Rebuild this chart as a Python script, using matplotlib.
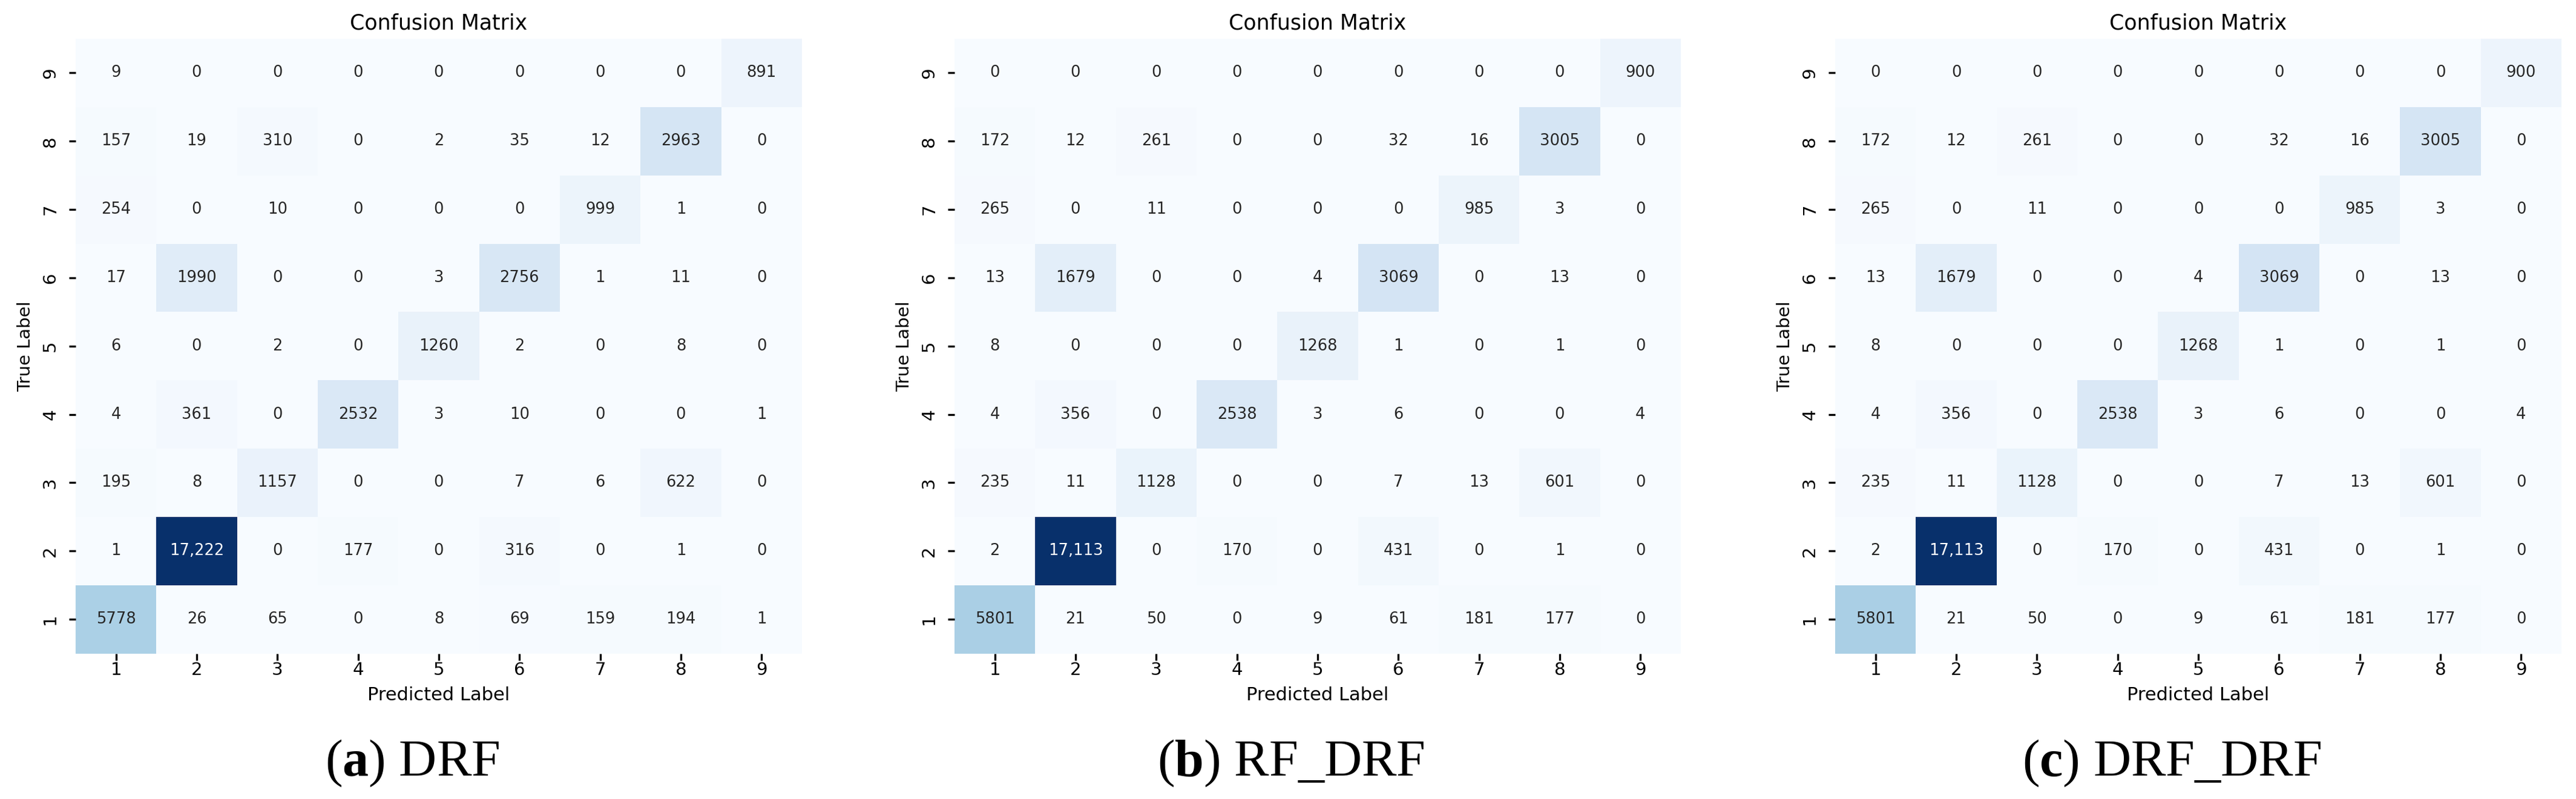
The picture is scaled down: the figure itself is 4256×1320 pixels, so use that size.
import numpy as np
import matplotlib
matplotlib.use("Agg")
import matplotlib.pyplot as plt
import seaborn as sns

# Confusion matrices: rows = true label 1..9, columns = predicted label 1..9
class_labels = [1, 2, 3, 4, 5, 6, 7, 8, 9]

cm_drf = [
    [5778, 26, 65, 0, 8, 69, 159, 194, 1],
    [1, 17222, 0, 177, 0, 316, 0, 1, 0],
    [195, 8, 1157, 0, 0, 7, 6, 622, 0],
    [4, 361, 0, 2532, 3, 10, 0, 0, 1],
    [6, 0, 2, 0, 1260, 2, 0, 8, 0],
    [17, 1990, 0, 0, 3, 2756, 1, 11, 0],
    [254, 0, 10, 0, 0, 0, 999, 1, 0],
    [157, 19, 310, 0, 2, 35, 12, 2963, 0],
    [9, 0, 0, 0, 0, 0, 0, 0, 891],
]

cm_rf_drf = [
    [5801, 21, 50, 0, 9, 61, 181, 177, 0],
    [2, 17113, 0, 170, 0, 431, 0, 1, 0],
    [235, 11, 1128, 0, 0, 7, 13, 601, 0],
    [4, 356, 0, 2538, 3, 6, 0, 0, 4],
    [8, 0, 0, 0, 1268, 1, 0, 1, 0],
    [13, 1679, 0, 0, 4, 3069, 0, 13, 0],
    [265, 0, 11, 0, 0, 0, 985, 3, 0],
    [172, 12, 261, 0, 0, 32, 16, 3005, 0],
    [0, 0, 0, 0, 0, 0, 0, 0, 900],
]

cm_drf_drf = [
    [5801, 21, 50, 0, 9, 61, 181, 177, 0],
    [2, 17113, 0, 170, 0, 431, 0, 1, 0],
    [235, 11, 1128, 0, 0, 7, 13, 601, 0],
    [4, 356, 0, 2538, 3, 6, 0, 0, 4],
    [8, 0, 0, 0, 1268, 1, 0, 1, 0],
    [13, 1679, 0, 0, 4, 3069, 0, 13, 0],
    [265, 0, 11, 0, 0, 0, 985, 3, 0],
    [172, 12, 261, 0, 0, 32, 16, 3005, 0],
    [0, 0, 0, 0, 0, 0, 0, 0, 900],
]

captions = [r"($\mathbf{a}$) DRF", r"($\mathbf{b}$) RF_DRF", r"($\mathbf{c}$) DRF_DRF"]
matrices = [cm_drf, cm_rf_drf, cm_drf_drf]

plt.rcParams['mathtext.fontset'] = 'custom'
plt.rcParams['mathtext.rm'] = 'Liberation Serif'
plt.rcParams['mathtext.bf'] = 'Liberation Serif:bold'

W, H = 4256, 1320
fig = plt.figure(figsize=(W / 100, H / 100), dpi=100)

# heatmap boxes in pixels (left, right), common top/bottom
boxes = [(125, 1325), (1577, 2777), (3032, 4232)]
top, bottom = 64, 1079.5
caption_x = [681, 2133, 3588]


def fmt_cell(v):
    # big numbers use a thousands separator
    return f"{v:,}" if v >= 10000 else str(v)


for i, (cm, (l, r)) in enumerate(zip(matrices, boxes)):
    ax = fig.add_axes([l / W, 1 - bottom / H, (r - l) / W, (bottom - top) / H])
    data = np.array(cm)
    labels = np.vectorize(fmt_cell)(data)
    sns.heatmap(data, annot=labels, fmt="", cmap="Blues", cbar=False,
                xticklabels=class_labels, yticklabels=class_labels,
                annot_kws={"fontsize": 18.5}, ax=ax)
    ax.invert_yaxis()
    ax.tick_params(axis='both', length=8, width=2.4, labelsize=21, color='black')
    ax.tick_params(axis='x', pad=1.5)
    ax.tick_params(axis='y', pad=12)
    plt.setp(ax.get_yticklabels(), rotation=90, va='center')
    plt.setp(ax.get_xticklabels(), rotation=0)

    ax.set_title('Confusion Matrix', fontsize=25, y=1.0148, pad=0)

    ax.set_xlabel('Predicted Label', fontsize=22)
    ax.xaxis.label.set_verticalalignment('baseline')
    ax.xaxis.set_label_coords(0.5, -(1157 - bottom) / (bottom - top))

    ax.set_ylabel('True Label', fontsize=21)
    ax.yaxis.label.set_verticalalignment('baseline')
    ax.yaxis.set_label_coords(-75 / (r - l), 0.5)

    fig.text(caption_x[i] / W, 1 - 1282 / H, captions[i], fontsize=62,
             family='Liberation Serif', ha='center', va='baseline')

plt.savefig('out.png', dpi=100)
